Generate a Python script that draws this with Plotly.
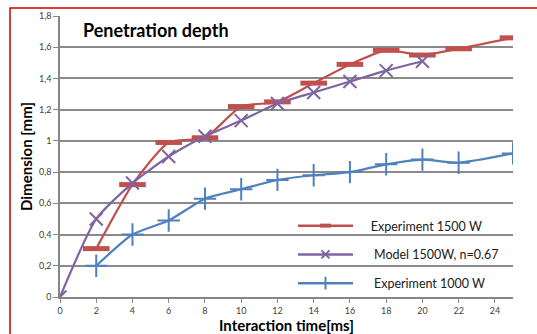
import plotly.graph_objects as go

# Data
x_exp1500 = [2, 4, 6, 8, 10, 12, 14, 16, 18, 20, 22, 25]
y_exp1500 = [0.31, 0.72, 0.99, 1.02, 1.22, 1.25, 1.37, 1.49, 1.58, 1.55, 1.59, 1.66]
x_model = [0, 2, 4, 6, 8, 10, 12, 14, 16, 18, 20]
y_model = [0, 0.50, 0.73, 0.90, 1.03, 1.13, 1.24, 1.31, 1.38, 1.45, 1.51]
x_exp1000 = [2, 4, 6, 8, 10, 12, 14, 16, 18, 20, 22, 25]
y_exp1000 = [0.20, 0.40, 0.49, 0.63, 0.69, 0.75, 0.78, 0.80, 0.85, 0.88, 0.86, 0.92]
x_ticks = list(range(0, 25, 2))
y_ticks = [0, 0.2, 0.4, 0.6, 0.8, 1.0, 1.2, 1.4, 1.6, 1.8]
y_tick_labels = ["0", "0,2", "0,4", "0,6", "0,8", "1", "1,2", "1,4", "1,6", "1,8"]
names = ["Experiment 1500 W", "Model 1500W, n=0.67", "Experiment 1000 W"]

RED = "#C0504D"
PURPLE = "#8064A2"
BLUE = "#4F81BD"
FONT = "Lato"
NB = "\u00a0"

fig = go.Figure()
fig.add_trace(go.Scatter(
    x=x_exp1500, y=y_exp1500, name=names[0], mode="lines+markers", showlegend=False,
    line=dict(color=RED, width=2.2, shape="spline", smoothing=0.6),
    marker=dict(symbol="line-ew", size=19, color=RED, line=dict(color=RED, width=5))))
fig.add_trace(go.Scatter(
    x=x_model, y=y_model, name=names[1], mode="lines+markers", showlegend=False,
    line=dict(color=PURPLE, width=2.2, shape="spline", smoothing=0.6),
    marker=dict(symbol="x-thin", size=13, color=PURPLE, line=dict(color=PURPLE, width=2))))
fig.add_trace(go.Scatter(
    x=x_exp1000, y=y_exp1000, name=names[2], mode="lines+markers", showlegend=False,
    line=dict(color=BLUE, width=2.2, shape="spline", smoothing=0.6),
    marker=dict(symbol="cross-thin", size=16, color=BLUE, line=dict(color=BLUE, width=2))))

# legend-only entries with small markers
leg_specs = [
    (names[0], RED, dict(symbol="line-ew", size=8, color=RED, line=dict(color=RED, width=4)), 4),
    (names[1], PURPLE, dict(symbol="x-thin", size=8, color=PURPLE, line=dict(color=PURPLE, width=2)), 5),
    (names[2], BLUE, dict(symbol="line-ns", size=9, color=BLUE, line=dict(color=BLUE, width=2)), 5),
]
for i, (nm, col, mk, pad) in enumerate(leg_specs):
    fig.add_trace(go.Scatter(
        x=[None], y=[None], name=NB * pad + nm, mode="lines+markers",
        line=dict(color=col, width=2.5), marker=mk, legendgroup="g%d" % i))

fig.update_layout(
    width=537, height=334,
    margin=dict(l=60, r=24, t=16, b=37, autoexpand=False),
    paper_bgcolor="white", plot_bgcolor="white",
    font=dict(family=FONT, color="#404040", size=10),
    showlegend=True,
    legend=dict(x=(293 - 60) / 453, y=(297 - 211) / 281, xanchor="left", yanchor="top",
                bgcolor="rgba(255,255,255,0)", font=dict(size=12.5, color="#202020", family=FONT),
                itemwidth=55, tracegroupgap=9.5),
    xaxis=dict(range=[0, 25], tickvals=x_ticks, showgrid=False, zeroline=False,
               showline=True, linecolor="#868686", linewidth=1.5,
               ticks="outside", ticklen=4, tickcolor="#868686", ticklabelstandoff=0,
               tickfont=dict(size=9, color="#404040")),
    yaxis=dict(range=[0, 1.8], tickvals=y_ticks, ticktext=y_tick_labels,
               showgrid=True, gridcolor="#8a8a8a", gridwidth=1.5, zeroline=False,
               showline=True, linecolor="#868686", linewidth=1.5,
               ticks="outside", ticklen=5, tickcolor="#868686",
               tickfont=dict(size=9, color="#404040"),
               title=dict(text="Dimension [mm]", font=dict(size=15, color="black", family=FONT), standoff=3)),
    annotations=[
        dict(text="<b>Penetration depth</b>", xref="paper", yref="paper",
             x=0.046, y=0.95, xanchor="left", yanchor="middle", showarrow=False,
             font=dict(size=18, color="black", family=FONT)),
        dict(text="<b>Interaction time[ms]</b>", xref="paper", yref="paper",
             x=0.5, y=(297 - 335) / 281, xanchor="center", yanchor="bottom", showarrow=False,
             borderpad=0, font=dict(size=15, color="black", family=FONT)),
    ],
    shapes=[
        dict(type="rect", xref="paper", yref="paper",
             x0=(10 - 60) / 453, x1=1.2, y0=-0.3, y1=(297 - 8) / 281,
             line=dict(color="#CC0000", width=1.5), layer="below"),
        dict(type="rect", xref="paper", yref="paper",
             x0=(280 - 60) / 453, x1=1.0, y0=(297 - 294) / 281, y1=(297 - 204) / 281,
             fillcolor="white", line=dict(width=0), layer="between"),
    ],
)
fig.update_yaxes(title_font_weight="bold")

fig.write_html("out.html")
